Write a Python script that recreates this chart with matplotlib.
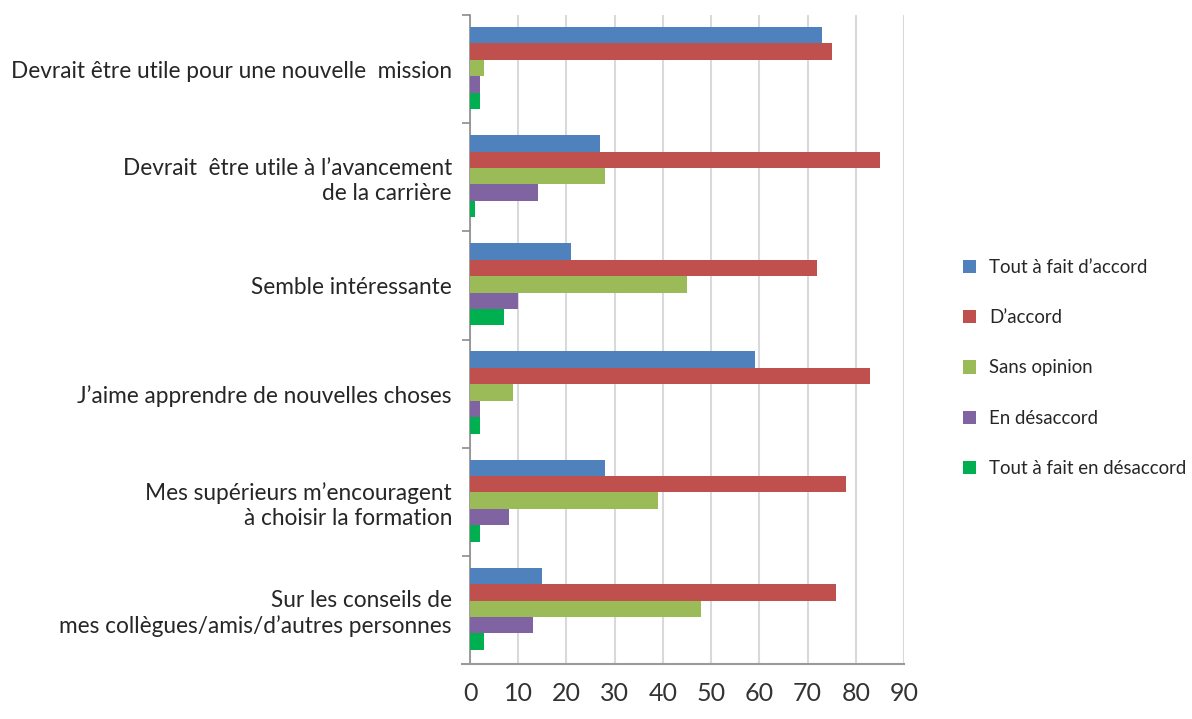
import numpy as np
import matplotlib.pyplot as plt
from matplotlib.ticker import FixedLocator, NullFormatter

categories = ['Devrait être utile pour une nouvelle  mission',
              'Devrait  être utile à l\u2019avancement\nde la carrière',
              'Semble intéressante',
              'J\u2019aime apprendre de nouvelles choses',
              'Mes supérieurs m\u2019encouragent\nà choisir la formation',
              'Sur les conseils de\nmes collègues/amis/d\u2019autres personnes']
series = ['Tout à fait d\u2019accord', 'D\u2019accord', 'Sans opinion',
          'En désaccord', 'Tout à fait en désaccord']
tout_accord = [73, 27, 21, 59, 28, 15]
accord = [75, 85, 72, 83, 78, 76]
sans_opinion = [3, 28, 45, 9, 39, 48]
desaccord = [2, 14, 10, 2, 8, 13]
tout_desaccord = [2, 1, 7, 2, 2, 3]
colors = ['#4F81BD', '#C0504D', '#9BBB59', '#8064A2', '#00B050']

plt.rcParams['font.family'] = ['Lato', 'DejaVu Sans']

fig = plt.figure(figsize=(11.92, 7.19), dpi=100)
ax = fig.add_axes([470/1192, 1-664/719, (904-470)/1192, (664-15)/719])

y = np.arange(len(categories))
h = 0.152
values = [tout_accord, accord, sans_opinion, desaccord, tout_desaccord]
for i, (vals, lab, col) in enumerate(zip(values, series, colors)):
    ax.barh(y - 0.01 + (i - 2) * h, vals, height=h, color=col, label=lab, zorder=3)

ax.set_xlim(0, 90)
ax.set_ylim(5.5, -0.5)
ax.set_xticks(range(0, 91, 10))
ax.tick_params(axis='x', length=0, pad=13, labelsize=18, labelcolor='#333333')
ax.grid(axis='x', color='#D9D9D9', linewidth=1.5, zorder=0)

ax.yaxis.set_major_locator(FixedLocator(np.arange(-0.5, 6, 1)))
ax.yaxis.set_major_formatter(NullFormatter())
ax.yaxis.set_minor_locator(FixedLocator(y))
ax.set_yticklabels(categories, minor=True)
ax.tick_params(axis='y', which='major', length=6, color='#8C8C8C', width=1.2)
ax.tick_params(axis='y', which='minor', length=0, pad=13, labelsize=16.3,
               labelcolor='#262626')

for s in ['top', 'right']:
    ax.spines[s].set_visible(False)
ax.spines['left'].set_color('#8C8C8C')
ax.spines['left'].set_linewidth(1.2)
ax.spines['bottom'].set_color('#9A9A9A')
ax.spines['bottom'].set_linewidth(1.5)
ax.spines['bottom'].set_bounds(-1.6, 90)

fig.legend(loc='center left', bbox_to_anchor=(946/1192, 1-368/719), frameon=False,
           fontsize=13.4, handlelength=0.7, handleheight=0.7, handletextpad=0.7,
           labelspacing=1.78, labelcolor='#262626')

fig.savefig('out.png', dpi=100)
